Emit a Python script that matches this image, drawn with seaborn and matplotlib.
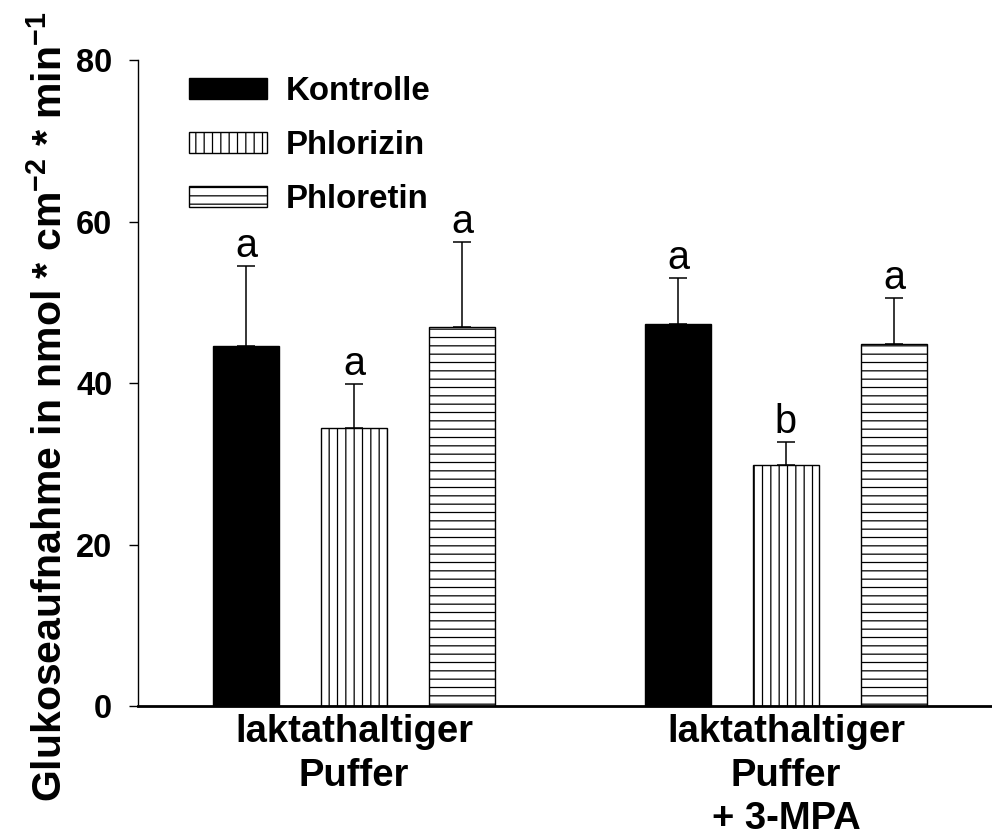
import numpy as np
import pandas as pd
import matplotlib
matplotlib.use("Agg")
import matplotlib.pyplot as plt
import matplotlib.patches as mpatches
import seaborn as sns

# ---- data ----
conditions = ["laktathaltiger\nPuffer", "laktathaltiger\nPuffer\n+ 3-MPA"]
treatments = ["Kontrolle", "Phlorizin", "Phloretin"]
kontrolle = [44.6, 47.3]
phlorizin = [34.5, 29.8]
phloretin = [46.9, 44.8]
err_kontrolle = [9.9, 5.7]
err_phlorizin = [5.4, 2.9]
err_phloretin = [10.6, 5.8]
letters_kontrolle = ["a", "a"]
letters_phlorizin = ["a", "b"]
letters_phloretin = ["a", "a"]
y_ticks = [0, 20, 40, 60, 80]

values = [kontrolle, phlorizin, phloretin]
errors = [err_kontrolle, err_phlorizin, err_phloretin]
letters = [letters_kontrolle, letters_phlorizin, letters_phloretin]

rows = []
for t, vals in zip(treatments, values):
    for c, v in zip(conditions, vals):
        rows.append({"Bedingung": c, "Behandlung": t, "Wert": v})
df = pd.DataFrame(rows)

# ---- style ----
sns.set_theme(style="ticks")
plt.rcParams["font.family"] = ["Liberation Sans", "DejaVu Sans"]
plt.rcParams["mathtext.default"] = "regular"
plt.rcParams["hatch.linewidth"] = 0.9
plt.rcParams["hatch.color"] = "black"
for k in ["text.color", "axes.labelcolor", "xtick.color", "ytick.color", "axes.edgecolor"]:
    plt.rcParams[k] = "black"

facecolors = {"Kontrolle": "black", "Phlorizin": "white", "Phloretin": "white"}
hatches = {"Kontrolle": "", "Phlorizin": "||", "Phloretin": "--"}

fig = plt.figure(figsize=(9.92, 8.4), dpi=100)
ax = fig.add_axes([138 / 992, (840 - 706) / 840, 1 - 138 / 992, (706 - 60.3) / 840])

sns.barplot(data=df, x="Bedingung", y="Wert", hue="Behandlung",
            order=conditions, hue_order=treatments, palette=facecolors,
            width=0.75, gap=0.39, edgecolor="black", linewidth=1.0,
            errorbar=None, legend=False, saturation=1, ax=ax)

bar_containers = list(ax.containers)
for i, cont in enumerate(bar_containers):
    t = treatments[i]
    for j, bar in enumerate(cont):
        bar.set_hatch(hatches[t])
        bar.set_edgecolor("black")
        x = bar.get_x() + bar.get_width() / 2
        v = values[i][j]
        e = errors[i][j]
        ax.errorbar(x, v, yerr=[[0], [e]], fmt="none", ecolor="black",
                    elinewidth=1.1, capsize=6.5, capthick=1.1, zorder=3)
        ax.annotate(letters[i][j], (x, v + e), xytext=(0, 6.5),
                    textcoords="offset points", ha="center", va="baseline",
                    fontsize=28.5, fontweight="normal", color="black")

ax.set_ylim(0, 80)
ax.set_xlim(-0.5, 1.477)
ax.set_yticks(y_ticks)
ax.set_yticklabels([str(v) for v in y_ticks], fontsize=23.5, fontweight="bold")
ax.tick_params(axis="y", length=6.5, width=1, direction="out", pad=12, color="black")
ax.tick_params(axis="x", length=0, pad=6)
for lab in ax.get_xticklabels():
    lab.set_fontsize(27.5)
    lab.set_fontweight("bold")
    lab.set_linespacing(1.27)
ax.set_xlabel("")
ax.set_ylabel("Glukoseaufnahme in nmol * cm$^{-2}$ * min$^{-1}$",
              fontsize=29.5, fontweight="bold")
ax.yaxis.set_label_coords(-0.0796, 0.464)

sns.despine(ax=ax, top=True, right=True)
ax.spines["left"].set_linewidth(1.0)
ax.spines["bottom"].set_linewidth(2.0)

handles = [mpatches.Patch(facecolor=facecolors[t], edgecolor="black",
                          hatch=hatches[t], linewidth=1.0) for t in treatments]
leg = fig.legend(handles, treatments, loc="upper left",
                 bbox_to_anchor=(189 / 992, 1 - 76 / 840), frameon=False,
                 prop={"family": "Liberation Sans", "weight": "bold", "size": 23.8},
                 handlelength=2.35, handleheight=0.58, handletextpad=0.58,
                 labelspacing=0.7, borderpad=0, borderaxespad=0)

fig.savefig("out.png", dpi=100)
